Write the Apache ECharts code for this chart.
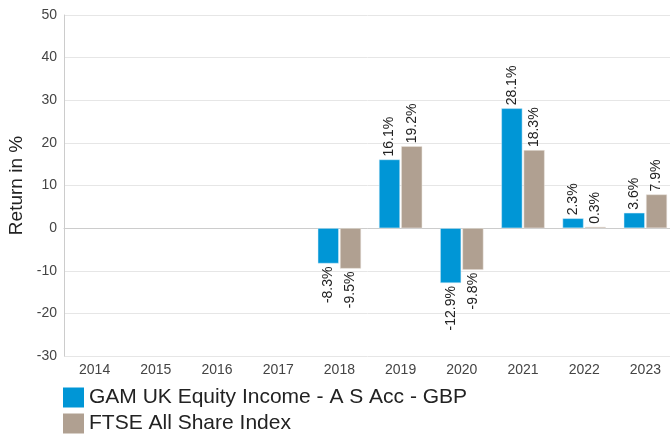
<!DOCTYPE html>
<html>
<head>
<meta charset="utf-8">
<script src="https://cdn.jsdelivr.net/npm/echarts@6/dist/echarts.min.js"></script>
<style>
html, body { margin: 0; padding: 0; background: #fff; }
#chart { width: 670px; height: 436px; }
</style>
</head>
<body>
<div id="chart"></div>
<script>
var years = ['2014', '2015', '2016', '2017', '2018', '2019', '2020', '2021', '2022', '2023']
var fundName = 'GAM UK Equity Income - A S Acc - GBP'
var indexName = 'FTSE All Share Index'
var fundValues = [null, null, null, null, -8.3, 16.1, -12.9, 28.1, 2.3, 3.6]
var indexValues = [null, null, null, null, -9.5, 19.2, -9.8, 18.3, 0.3, 7.9]

// label above positive bars, below negative ones
function withLabels (values) {
  return values.map(function (v) {
    if (v === null) return null
    return {
      value: v,
      label: v < 0
        ? { position: 'bottom', align: 'right' }
        : { position: 'top', align: 'left' }
    }
  })
}

var labelStyle = {
  show: true,
  rotate: 90,
  verticalAlign: 'middle',
  distance: 3,
  fontSize: 14,
  color: '#222',
  fontFamily: 'Liberation Sans',
  formatter: function (p) { return p.value.toFixed(1) + '%' }
}

function legendRow (name, top) {
  return {
    orient: 'vertical',
    left: 63,
    top: top,
    padding: 0,
    icon: 'rect',
    itemWidth: 21,
    itemHeight: 20,
    itemStyle: { borderWidth: 0 },
    textStyle: { fontSize: 21, color: '#222' },
    data: [name]
  }
}

var chart = echarts.init(document.getElementById('chart'))
chart.setOption({
  animation: false,
  textStyle: { fontFamily: 'Liberation Sans' },
  grid: { left: 64, right: -6, top: 15, bottom: 80, outerBoundsMode: 'none', containLabel: false },
  legend: [legendRow(fundName, 387), legendRow(indexName, 413)],
  xAxis: {
    type: 'category',
    data: years,
    axisLine: { lineStyle: { color: '#ccc', width: 1 } },
    axisTick: { show: false },
    axisLabel: { color: '#444', fontSize: 14, margin: 7 }
  },
  yAxis: {
    type: 'value',
    min: -30,
    max: 50,
    interval: 10,
    name: 'Return in %',
    nameLocation: 'middle',
    nameGap: 36,
    nameTextStyle: { fontSize: 19, color: '#222' },
    axisLine: { show: true, lineStyle: { color: '#ccc' } },
    axisTick: { show: false },
    axisLabel: { color: '#444', fontSize: 14, margin: 7 },
    splitLine: { lineStyle: { color: '#e6e6e6' } }
  },
  series: [{
    name: fundName,
    type: 'bar',
    barWidth: 21,
    barGap: '6%',
    itemStyle: { color: '#0096d6', borderColor: '#d8eef8', borderWidth: 0.5 },
    label: labelStyle,
    data: withLabels(fundValues)
  }, {
    name: indexName,
    type: 'bar',
    barWidth: 21,
    barGap: '6%',
    itemStyle: { color: '#b0a091', borderColor: '#ece6e0', borderWidth: 0.5 },
    label: labelStyle,
    data: withLabels(indexValues)
  }]
})
</script>
</body>
</html>
